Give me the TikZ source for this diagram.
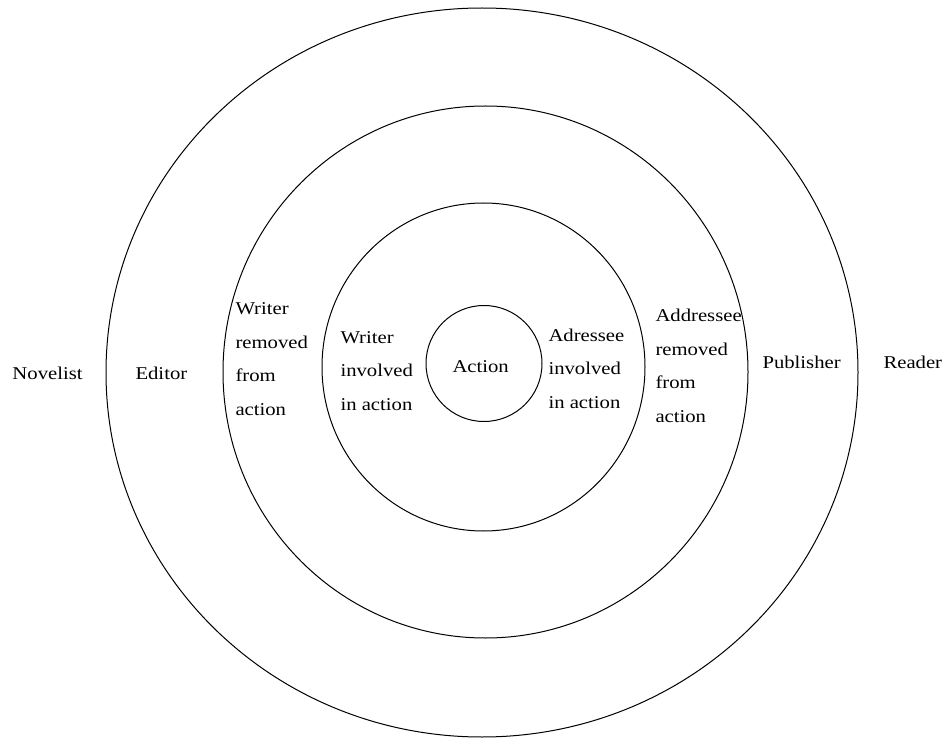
\documentclass[tikz,border=0pt]{standalone}
\usepackage{fontspec}
\setmainfont{Liberation Serif}[FakeStretch=1.15]
\usetikzlibrary{positioning}

\begin{document}
\begin{tikzpicture}[
    x=1pt, y=-1pt,
    line width=1pt,         % circle outlines
    ring/.style={draw=black},
    lbl/.style={inner sep=0pt, anchor=base west, align=left,
                font=\fontsize{18}{33.5}\selectfont}
]
    \useasboundingbox (0,0) rectangle (946,738);

    % --- 1. rings ---
    \draw [ring] (482,372.5) ellipse [x radius=376, y radius=364.5];
    \draw [ring] (485.5,372) ellipse [x radius=262.5, y radius=266];
    \draw [ring] (483.5,367) ellipse [x radius=161.5, y radius=164];
    \draw [ring] (484,363.5) circle [radius=58];

    % --- 2. labels, left side (multi-line: base = last line) ---
    \node [lbl] (novelist) at (12,379) {Novelist};
    \node [lbl] (editor) at (135,379) {Editor};
    \node [lbl] (wremoved) at (235,415) {Writer\\removed\\from\\action};
    \node [lbl] (winvolved) at (340,410) {Writer\\involved\\in action};

    % --- 3. centre ---
    \node [lbl] (action) at (452,372) {Action};

    % --- 4. labels, right side ---
    \node [lbl] (ainvolved) at (548,408) {Adressee\\involved\\in action};
    \node [lbl] (aremoved) at (655,422) {Addressee\\removed\\from\\action};
    \node [lbl] (publisher) at (762,369) {Publisher};
    \node [lbl] (reader) at (883,369) {Reader};

\end{tikzpicture}
\end{document}
